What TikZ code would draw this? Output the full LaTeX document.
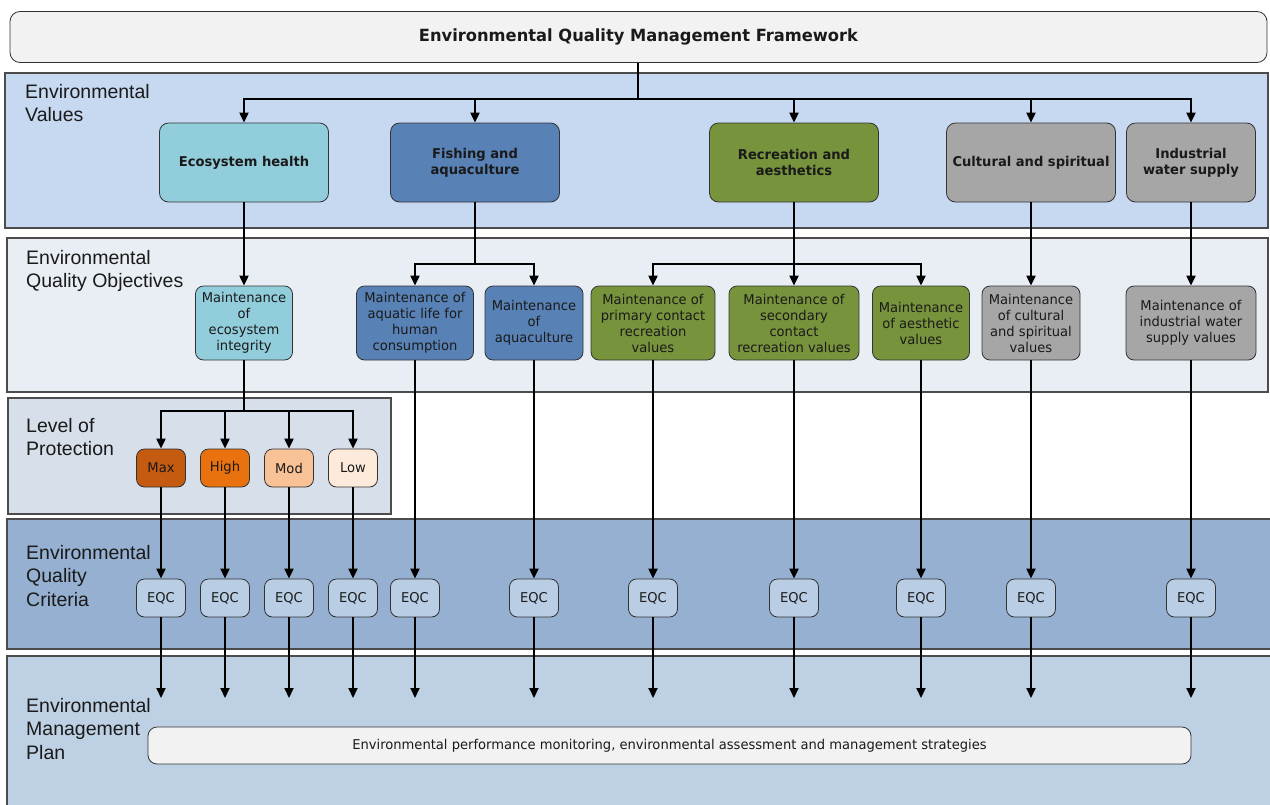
\documentclass[tikz,border=0pt]{standalone}
\usepackage{fontspec}
\setmainfont{DejaVu Sans}[FakeStretch=0.97]
\newfontfamily\bandfont{Liberation Sans}
\usetikzlibrary{arrows.meta}
\definecolor{titlefill}{HTML}{F2F2F2}
\definecolor{valband}{HTML}{C6D9F1}
\definecolor{objband}{HTML}{E9EEF5}
\definecolor{lopband}{HTML}{D6DFEA}
\definecolor{eqcband}{HTML}{95B0D0}
\definecolor{empband}{HTML}{BED0E3}
\definecolor{ecofill}{HTML}{92CDDC}
\definecolor{fishfill}{HTML}{5881B5}
\definecolor{recfill}{HTML}{77933C}
\definecolor{greyfill}{HTML}{A6A6A6}
\definecolor{maxfill}{HTML}{C55A11}
\definecolor{highfill}{HTML}{E9720E}
\definecolor{modfill}{HTML}{F9C196}
\definecolor{lowfill}{HTML}{FDEADA}
\definecolor{eqcfill}{HTML}{B9CDE4}
\definecolor{inkgrey}{HTML}{1A1A1A}

\begin{document}
\begin{tikzpicture}[x=1pt, y=-1pt, text=inkgrey,
    band/.style={draw=black!70, line width=1.1pt},
    bandlabel/.style={anchor=north west, align=left, inner sep=0pt, font=\bandfont\fontsize{19.5}{23.5}\selectfont},
    valbox/.style={draw=black!80, line width=0.8pt, rounded corners=9pt, minimum width=169pt, minimum height=79pt, inner sep=0pt, align=center, font=\bfseries\fontsize{13.5}{16}\selectfont},
    objbox/.style={draw=black!80, line width=0.8pt, rounded corners=8pt, minimum height=74pt, inner sep=0pt, align=center, font=\fontsize{13.5}{16}\selectfont},
    smallbox/.style={draw=black!80, line width=0.8pt, rounded corners=8pt, minimum width=49pt, minimum height=38pt, inner sep=0pt, font=\fontsize{13.5}{16}\selectfont},
    arr/.style={-{Triangle[length=10pt,width=9pt]}, line width=2pt, black},
    link/.style={line width=2pt, black}]
\useasboundingbox (0,0) rectangle (1270,804);

% bands
\draw[band, fill=valband] (5,73) rectangle (1268,228);
\draw[band, fill=objband] (7,238) rectangle (1268,392);
\draw[band, fill=lopband] (8,398) rectangle (391,514);
\draw[band, fill=eqcband] (7,519) rectangle (1272,649);
\draw[band, fill=empband] (7,656) rectangle (1272,808);

\node[bandlabel] (ValLabel) at (25,84) {Environmental\\Values};
\node[bandlabel] (ObjLabel) at (26,250) {Environmental\\Quality Objectives};
\node[bandlabel] (LopLabel) at (26,418) {Level of\\Protection};
\node[bandlabel] (EqcLabel) at (26,545) {Environmental\\Quality\\Criteria};
\node[bandlabel] (EmpLabel) at (26,698) {Environmental\\Management\\Plan};

% framework
\node[draw=black!80, line width=0.8pt, rounded corners=10pt, fill=titlefill, minimum width=1257pt, minimum height=51pt, font=\bfseries\fontsize{16.8}{18}\selectfont] (Title) at (638.5,37) {Environmental Quality Management Framework};

% values
\node[valbox, fill=ecofill] (EcoHealth) at (244,162.5) {Ecosystem health};
\node[valbox, fill=fishfill] (Fishing) at (475,162.5) {Fishing and\\aquaculture};
\node[valbox, fill=recfill] (Recreation) at (794,162.5) {Recreation and\\aesthetics};
\node[valbox, fill=greyfill] (Cultural) at (1031,162.5) {Cultural and spiritual};
\node[valbox, fill=greyfill, minimum width=129pt] (Industrial) at (1191,162.5) {Industrial\\water supply};

% objectives
\node[objbox, fill=ecofill, minimum width=97pt] (Integrity) at (244,323) {Maintenance\\of\\ecosystem\\integrity};
\node[objbox, fill=fishfill, minimum width=117pt] (AquaticLife) at (415,323) {Maintenance of\\aquatic life for\\human\\consumption};
\node[objbox, fill=fishfill, minimum width=98pt] (Aquaculture) at (534,323) {Maintenance\\of\\aquaculture};
\node[objbox, fill=recfill, minimum width=124pt] (Primary) at (653,323) {Maintenance of\\primary contact\\recreation\\values};
\node[objbox, fill=recfill, minimum width=130pt] (Secondary) at (794,323) {Maintenance of\\secondary\\contact\\recreation values};
\node[objbox, fill=recfill, minimum width=97pt] (Aesthetic) at (921,323) {Maintenance\\of aesthetic\\values};
\node[objbox, fill=greyfill, minimum width=98pt] (CultVals) at (1031,323) {Maintenance\\of cultural\\and spiritual\\values};
\node[objbox, fill=greyfill, minimum width=130pt] (IndVals) at (1191,323) {Maintenance of\\industrial water\\supply values};

% level of protection
\node[smallbox, fill=maxfill] (Max) at (161,468) {Max};
\node[smallbox, fill=highfill] (High) at (225,468) {High};
\node[smallbox, fill=modfill] (Mod) at (289,468) {Mod};
\node[smallbox, fill=lowfill] (Low) at (353,468) {Low};

% criteria
\node[smallbox, fill=eqcfill] (EqcMax) at (161,598) {EQC};
\node[smallbox, fill=eqcfill] (EqcHigh) at (225,598) {EQC};
\node[smallbox, fill=eqcfill] (EqcMod) at (289,598) {EQC};
\node[smallbox, fill=eqcfill] (EqcLow) at (353,598) {EQC};
\node[smallbox, fill=eqcfill] (EqcAquatic) at (415,598) {EQC};
\node[smallbox, fill=eqcfill] (EqcAquac) at (534,598) {EQC};
\node[smallbox, fill=eqcfill] (EqcPrimary) at (653,598) {EQC};
\node[smallbox, fill=eqcfill] (EqcSecondary) at (794,598) {EQC};
\node[smallbox, fill=eqcfill] (EqcAesthetic) at (921,598) {EQC};
\node[smallbox, fill=eqcfill] (EqcCultural) at (1031,598) {EQC};
\node[smallbox, fill=eqcfill] (EqcIndustrial) at (1191,598) {EQC};

% management plan
\node[draw=black!80, line width=0.8pt, rounded corners=9pt, fill=titlefill, minimum width=1043pt, minimum height=37pt, font=\fontsize{13.5}{16}\selectfont] (Plan) at (669.5,745.5) {Environmental performance monitoring, environmental assessment and management strategies};

% hubs
\coordinate (ValHub) at (638,99);
\coordinate (FishHub) at (475,264);
\coordinate (RecHub) at (794,264);
\coordinate (LopHub) at (244,411);
\coordinate (PlanLine) at (0,698);

% framework to values
\draw[link] (Title.south -| ValHub) -- (ValHub);
\draw[arr] (ValHub) -| (EcoHealth.north);
\draw[arr] (ValHub) -| (Fishing.north);
\draw[arr] (ValHub) -| (Recreation.north);
\draw[arr] (ValHub) -| (Cultural.north);
\draw[arr] (ValHub) -| (Industrial.north);

% values to objectives
\draw[arr] (EcoHealth.south) -- (Integrity.north);
\draw[link] (Fishing.south) -- (FishHub);
\draw[arr] (FishHub) -| (AquaticLife.north);
\draw[arr] (FishHub) -| (Aquaculture.north);
\draw[arr] (Recreation.south) -- (Secondary.north);
\draw[arr] (RecHub) -| (Primary.north);
\draw[arr] (RecHub) -| (Aesthetic.north);
\draw[arr] (Cultural.south) -- (CultVals.north);
\draw[arr] (Industrial.south) -- (IndVals.north);

% objectives to protection levels
\draw[link] (Integrity.south) -- (LopHub);
\draw[arr] (LopHub) -| (Max.north);
\draw[arr] (LopHub) -| (High.north);
\draw[arr] (LopHub) -| (Mod.north);
\draw[arr] (LopHub) -| (Low.north);

% to criteria
\draw[arr] (Max.south) -- (EqcMax.north);
\draw[arr] (High.south) -- (EqcHigh.north);
\draw[arr] (Mod.south) -- (EqcMod.north);
\draw[arr] (Low.south) -- (EqcLow.north);
\draw[arr] (AquaticLife.south) -- (EqcAquatic.north);
\draw[arr] (Aquaculture.south) -- (EqcAquac.north);
\draw[arr] (Primary.south) -- (EqcPrimary.north);
\draw[arr] (Secondary.south) -- (EqcSecondary.north);
\draw[arr] (Aesthetic.south) -- (EqcAesthetic.north);
\draw[arr] (CultVals.south) -- (EqcCultural.north);
\draw[arr] (IndVals.south) -- (EqcIndustrial.north);

% criteria to plan
\draw[arr] (EqcMax.south) -- (EqcMax.south |- PlanLine);
\draw[arr] (EqcHigh.south) -- (EqcHigh.south |- PlanLine);
\draw[arr] (EqcMod.south) -- (EqcMod.south |- PlanLine);
\draw[arr] (EqcLow.south) -- (EqcLow.south |- PlanLine);
\draw[arr] (EqcAquatic.south) -- (EqcAquatic.south |- PlanLine);
\draw[arr] (EqcAquac.south) -- (EqcAquac.south |- PlanLine);
\draw[arr] (EqcPrimary.south) -- (EqcPrimary.south |- PlanLine);
\draw[arr] (EqcSecondary.south) -- (EqcSecondary.south |- PlanLine);
\draw[arr] (EqcAesthetic.south) -- (EqcAesthetic.south |- PlanLine);
\draw[arr] (EqcCultural.south) -- (EqcCultural.south |- PlanLine);
\draw[arr] (EqcIndustrial.south) -- (EqcIndustrial.south |- PlanLine);
\end{tikzpicture}
\end{document}
